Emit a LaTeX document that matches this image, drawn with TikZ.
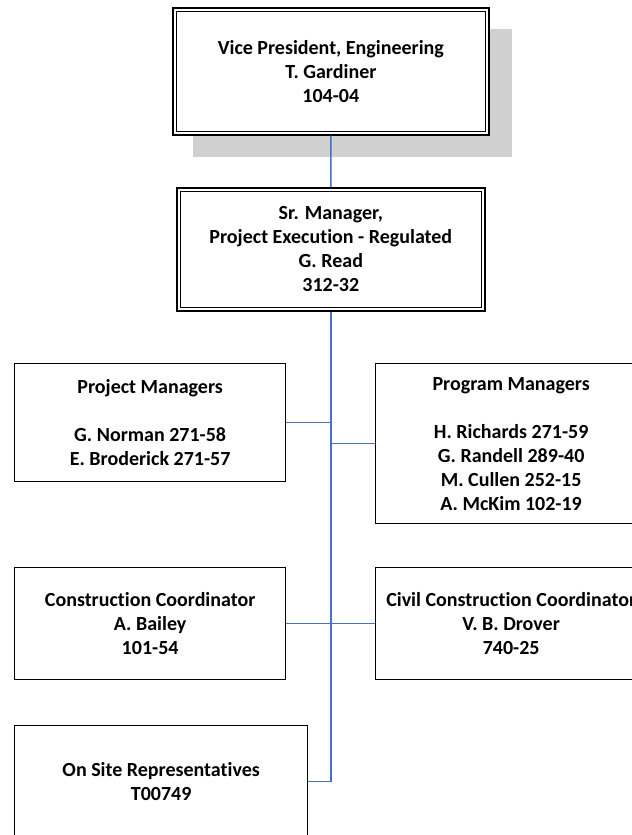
\documentclass[tikz,border=0pt]{standalone}
\usepackage{fontspec}
\setmainfont{Carlito}[Ligatures=NoCommon]
\definecolor{linkblue}{HTML}{4472C4}
\definecolor{shadowgray}{HTML}{D0D0D0}
\begin{document}
\begin{tikzpicture}[x=1bp,y=-1bp,
  txt/.style={font=\fontsize{20bp}{24bp}\selectfont\bfseries, align=center, inner sep=0pt},
  box/.style={txt, draw=black, line width=1.3bp, fill=white, anchor=north west},
  dbox/.style={txt, draw=black, line width=1.7bp, fill=white, anchor=north west},
  inner/.style={draw=black, line width=1bp},
  link/.style={draw=linkblue, line width=1.6bp}]
\useasboundingbox (0,0) rectangle (632,835);
% shadow of top box
\fill[shadowgray] (193,29) rectangle (512,157);
% nodes
\node[dbox, minimum width=316bp, minimum height=127bp] (vp) at (172,7)
  {Vice President, Engineering\\T. Gardiner\\104-04};
\node[dbox, minimum width=308bp, minimum height=123bp] (sr) at (176,187)
  {Sr. Manager,\\Project Execution - Regulated\\G. Read\\312-32};
\draw[inner] ([shift={(4.5,4.5)}]vp.north west) rectangle ([shift={(-4.5,-4.5)}]vp.south east);
\draw[inner] ([shift={(4.5,4.5)}]sr.north west) rectangle ([shift={(-4.5,-4.5)}]sr.south east);
\node[box, minimum width=271bp, minimum height=118bp] (pm) at (14,363)
  {Project Managers\\[24bp]G. Norman 271-58\\E. Broderick 271-57};
\node[box, minimum width=271bp, minimum height=160bp] (pg) at (375,363)
  {Program Managers\\[24bp]H. Richards 271-59\\G. Randell 289-40\\M. Cullen 252-15\\A. McKim 102-19};
\node[box, minimum width=271bp, minimum height=112bp] (cc) at (14,567)
  {Construction Coordinator\\A. Bailey\\101-54};
\node[box, minimum width=271bp, minimum height=112bp] (civ) at (375,567)
  {Civil Construction Coordinator\\V. B. Drover\\740-25};
\node[box, minimum width=293bp, minimum height=112bp] (os) at (14,725)
  {On Site Representatives\\T00749};
% connectors
\draw[link] (vp.south) -- (sr.north);
\draw[link] (sr.south) |- (os.east);
\draw[link] (pm.east) -- (pm.east -| sr.south);
\draw[link] (pg.west) -- (pg.west -| sr.south);
\draw[link] (cc.east) -- (civ.west);
\end{tikzpicture}
\end{document}
